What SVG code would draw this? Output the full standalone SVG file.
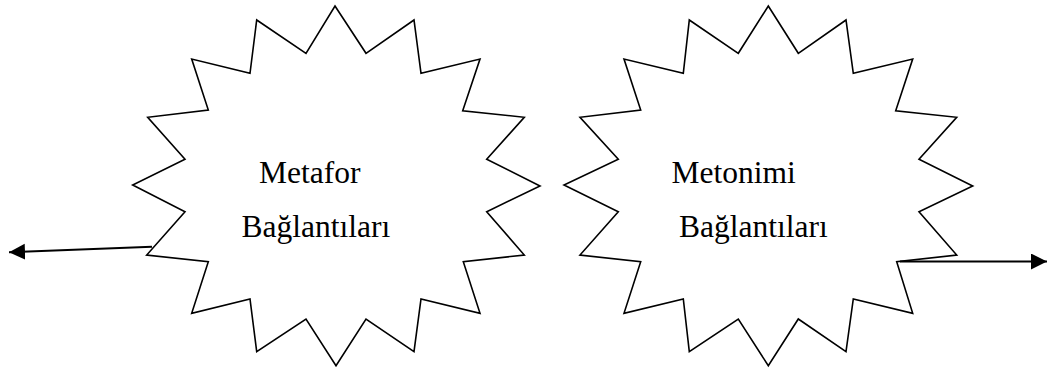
<svg xmlns="http://www.w3.org/2000/svg" width="1049" height="372" viewBox="0 0 1049 372">
<style>
.star{fill:#fff;stroke:#000;stroke-width:1.6;stroke-linejoin:miter}
.lbl{font-family:"Liberation Serif","Times New Roman",serif;font-size:31.5px;fill:#000}
.conn{stroke:#000;stroke-width:2;fill:none}
</style>
<defs>
<marker id="ah" markerUnits="userSpaceOnUse" markerWidth="17" markerHeight="17" refX="16" refY="8" orient="auto">
<path d="M0,0 L16,8 L0,16 Z" fill="#000"/>
</marker>
</defs>
<g id="node-metafor">
<polygon class="star" points="335,6 366,53.3 414,20 421,73.3 480,59 462.7,110.7 524.3,117.3 486.7,159.3 540,186 486.7,211.7 524.3,255 463.3,261.7 480,313.3 421,299 414,351.7 366,319 336,365.7 306,319 256.7,351.7 250,299 191.7,313.3 208.3,261.7 146.7,255 185,211.7 132.7,185 185,159.3 147.7,117.3 208.3,110 191.7,59 250,73.3 256.7,20 306,53.3"/>
<text class="lbl" x="259" y="182.5">Metafor</text>
<text class="lbl" x="241.5" y="237.3">Bağlantıları</text>
</g>
<g id="node-metonimi">
<polygon class="star" points="768.3,6 798.3,53.3 846,20 853.3,73.3 912.7,59 895.7,110.7 956.7,117.3 919,159.3 972.7,186 919,211.7 956.7,255 896.7,261.7 912.7,313.3 853.3,299 846,351.7 798.3,319 768.3,365.7 738.3,319 689.3,351.7 683.3,299 624,313.3 640.7,261.7 580,255 618.3,211.7 564,185 618.3,159.3 580,117.3 640.7,110 624,59 683.3,73.3 689.3,20 738.3,53.3"/>
<text class="lbl" x="671.5" y="182.5">Metonimi</text>
<text class="lbl" x="679" y="237.3">Bağlantıları</text>
</g>
<g id="connectors">
<line class="conn" x1="152" y1="246.7" x2="9" y2="252.3" marker-end="url(#ah)"/>
<line class="conn" x1="900" y1="261.5" x2="1047" y2="261.5" marker-end="url(#ah)"/>
</g>
</svg>
